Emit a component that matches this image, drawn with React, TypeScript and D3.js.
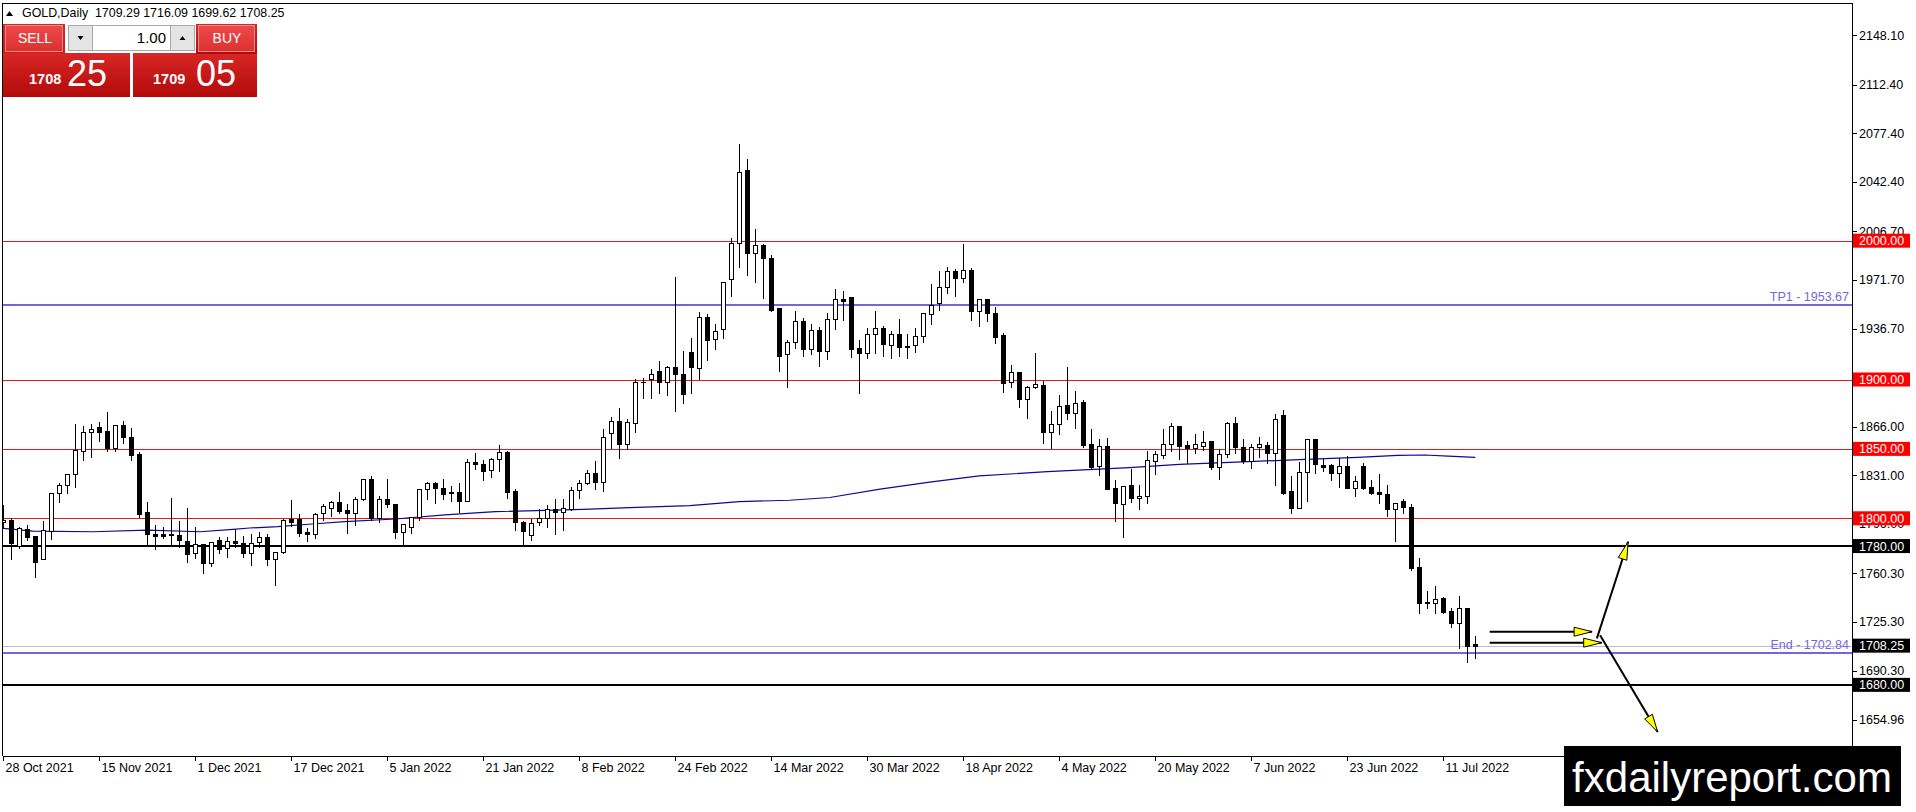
import * as d3 from "d3";

// daily OHLC, 28 Oct 2021 .. 18 Jul 2022
const opens = [
  1797.0, 1798.7, 1780.3, 1792.0, 1787.2, 1770.4, 1791.1, 1818.0, 1823.7, 1831.6,
  1848.7, 1861.9, 1865.5, 1862.9, 1850.4, 1867.2, 1858.3, 1846.3, 1804.3, 1788.4,
  1788.4, 1788.6, 1787.7, 1783.6, 1774.7, 1781.2, 1768.0, 1784.3, 1778.3, 1783.4,
  1781.9, 1774.7, 1782.7, 1786.3, 1770.4, 1775.9, 1799.5, 1799.5, 1789.9, 1788.4,
  1803.6, 1807.2, 1811.7, 1806.0, 1804.0, 1813.9, 1828.1, 1800.4, 1813.6, 1810.3,
  1790.3, 1794.0, 1800.7, 1820.9, 1825.2, 1822.0, 1819.2, 1819.2, 1812.7, 1840.3,
  1839.1, 1834.8, 1842.5, 1847.5, 1819.7, 1797.1, 1788.0, 1797.1, 1800.5, 1806.5,
  1804.8, 1806.7, 1820.4, 1825.2, 1832.4, 1826.0, 1861.2, 1870.3, 1853.3, 1868.9,
  1897.9, 1900.4, 1906.1, 1898.0, 1908.8, 1903.7, 1919.6, 1908.0, 1944.8, 1928.9,
  1936.2, 1972.2, 1998.1, 2050.9, 1990.9, 1996.9, 1987.8, 1951.3, 1918.1, 1926.8,
  1942.4, 1922.0, 1935.7, 1920.8, 1943.6, 1957.8, 1959.2, 1922.5, 1918.9, 1932.5,
  1936.9, 1924.9, 1932.5, 1923.2, 1924.9, 1931.3, 1947.2, 1954.9, 1966.4, 1978.2,
  1973.4, 1978.9, 1949.6, 1957.8, 1948.0, 1932.1, 1898.0, 1905.2, 1885.7, 1894.4,
  1896.0, 1862.4, 1867.7, 1881.6, 1876.1, 1884.0, 1853.5, 1837.6, 1852.1, 1821.6,
  1810.3, 1824.0, 1814.4, 1816.1, 1841.3, 1845.4, 1853.5, 1866.5, 1852.8, 1850.4,
  1852.3, 1855.7, 1837.2, 1846.3, 1868.4, 1851.1, 1841.3, 1851.6, 1852.8, 1847.3,
  1874.4, 1819.6, 1807.6, 1833.1, 1856.9, 1838.4, 1838.4, 1832.4, 1837.6, 1822.0,
  1837.6, 1822.3, 1818.9, 1817.2, 1806.4, 1812.4, 1808.3, 1765.1, 1739.9, 1739.2,
  1742.3, 1733.2, 1724.8, 1735.6, 1709.29,
];
const highs = [
  1810.0, 1801.1, 1794.4, 1795.9, 1787.2, 1798.7, 1818.0, 1826.1, 1832.8, 1868.9,
  1867.2, 1868.9, 1870.3, 1877.3, 1867.9, 1870.8, 1865.5, 1848.7, 1812.4, 1795.9,
  1794.4, 1815.1, 1798.7, 1807.9, 1794.4, 1781.2, 1782.6, 1787.2, 1787.2, 1792.7,
  1787.9, 1789.2, 1790.8, 1789.1, 1775.9, 1800.0, 1813.9, 1803.6, 1794.0, 1804.5,
  1810.8, 1813.2, 1819.6, 1810.8, 1816.3, 1828.8, 1831.2, 1816.8, 1828.8, 1811.2,
  1795.6, 1801.6, 1821.1, 1826.9, 1826.9, 1828.8, 1824.0, 1826.4, 1843.2, 1847.5,
  1842.5, 1843.9, 1853.5, 1849.0, 1821.6, 1798.8, 1800.0, 1807.7, 1810.1, 1814.4,
  1814.4, 1823.3, 1828.1, 1835.3, 1842.0, 1864.8, 1873.7, 1879.9, 1872.0, 1900.8,
  1902.0, 1908.0, 1914.0, 1910.5, 1974.6, 1921.3, 1930.9, 1949.6, 1947.7, 1941.0,
  1970.5, 2002.4, 2070.2, 2059.4, 2008.9, 1998.6, 1990.2, 1951.3, 1929.2, 1950.1,
  1944.8, 1940.5, 1938.6, 1948.9, 1965.7, 1964.5, 1959.7, 1928.9, 1938.1, 1950.1,
  1939.3, 1935.7, 1944.1, 1933.3, 1937.6, 1947.7, 1969.3, 1978.9, 1981.8, 1980.6,
  1998.6, 1981.3, 1958.5, 1959.0, 1953.0, 1934.5, 1911.2, 1906.4, 1896.0, 1919.6,
  1899.6, 1878.0, 1889.5, 1909.7, 1892.4, 1885.7, 1864.8, 1857.6, 1858.3, 1828.1,
  1823.3, 1836.0, 1824.7, 1849.2, 1849.2, 1864.8, 1869.6, 1867.2, 1856.4, 1861.2,
  1863.6, 1856.4, 1850.4, 1870.3, 1873.7, 1857.6, 1854.5, 1859.3, 1855.7, 1875.6,
  1878.5, 1831.2, 1841.2, 1856.9, 1856.9, 1843.2, 1840.1, 1844.4, 1845.6, 1831.2,
  1840.8, 1828.5, 1832.8, 1824.4, 1812.0, 1814.4, 1811.2, 1772.3, 1748.3, 1751.9,
  1744.0, 1736.3, 1744.7, 1735.6, 1716.09,
];
const lows = [
  1793.0, 1770.9, 1778.3, 1784.3, 1757.9, 1770.4, 1784.8, 1812.0, 1818.4, 1822.3,
  1842.0, 1844.4, 1855.9, 1848.7, 1848.7, 1854.5, 1842.0, 1801.1, 1780.3, 1777.6,
  1785.5, 1780.3, 1779.5, 1768.7, 1771.1, 1760.8, 1765.6, 1774.7, 1771.9, 1779.5,
  1772.3, 1766.3, 1779.5, 1766.3, 1751.9, 1774.7, 1794.4, 1787.2, 1783.9, 1785.5,
  1798.8, 1801.6, 1804.0, 1789.2, 1795.2, 1813.2, 1798.8, 1797.6, 1807.9, 1785.5,
  1781.5, 1789.6, 1798.8, 1813.9, 1811.2, 1813.9, 1812.7, 1804.8, 1812.4, 1835.3,
  1827.6, 1830.0, 1834.3, 1814.4, 1791.6, 1780.1, 1784.4, 1795.2, 1793.9, 1788.5,
  1791.6, 1806.0, 1814.9, 1824.7, 1820.9, 1819.9, 1850.4, 1843.7, 1849.7, 1862.4,
  1886.4, 1886.9, 1890.0, 1888.8, 1877.3, 1882.8, 1890.5, 1900.1, 1914.0, 1921.7,
  1929.7, 1960.2, 1980.8, 1975.3, 1970.5, 1958.5, 1949.4, 1906.4, 1894.8, 1922.5,
  1917.2, 1918.1, 1910.0, 1914.8, 1936.4, 1942.9, 1916.5, 1890.0, 1915.7, 1918.9,
  1917.2, 1915.3, 1917.2, 1915.3, 1920.1, 1927.3, 1939.8, 1950.1, 1962.6, 1960.4,
  1970.5, 1942.9, 1938.6, 1942.0, 1926.0, 1891.2, 1894.8, 1880.4, 1872.0, 1893.6,
  1854.0, 1850.4, 1860.7, 1871.3, 1864.8, 1851.1, 1835.3, 1831.2, 1820.9, 1798.3,
  1786.3, 1812.0, 1806.5, 1810.8, 1831.9, 1843.2, 1848.7, 1842.5, 1840.1, 1847.3,
  1849.2, 1835.3, 1828.1, 1844.4, 1846.8, 1840.1, 1836.5, 1843.9, 1839.6, 1824.0,
  1817.5, 1804.0, 1807.2, 1812.7, 1832.8, 1834.0, 1827.6, 1822.3, 1822.0, 1816.0,
  1820.9, 1817.2, 1811.2, 1801.6, 1783.9, 1803.6, 1762.7, 1731.5, 1735.6, 1732.0,
  1731.5, 1721.4, 1706.3, 1696.7, 1699.62,
];
const closes = [
  1799.0, 1782.4, 1792.7, 1786.7, 1768.7, 1791.5, 1818.0, 1823.7, 1831.6, 1849.2,
  1861.9, 1864.1, 1862.4, 1850.9, 1867.2, 1858.3, 1845.6, 1803.1, 1788.4, 1787.5,
  1787.5, 1787.7, 1784.3, 1774.0, 1781.2, 1768.0, 1782.6, 1777.6, 1783.6, 1782.4,
  1774.7, 1782.0, 1786.3, 1770.4, 1775.9, 1798.8, 1797.5, 1789.6, 1788.4, 1802.8,
  1808.8, 1812.0, 1805.5, 1804.0, 1813.9, 1828.1, 1800.0, 1813.6, 1810.0, 1790.3,
  1795.6, 1800.7, 1821.1, 1825.7, 1822.0, 1817.2, 1818.2, 1812.7, 1840.3, 1838.9,
  1834.3, 1842.5, 1847.5, 1819.2, 1797.1, 1791.1, 1796.4, 1800.5, 1806.5, 1804.3,
  1807.2, 1820.4, 1825.2, 1832.4, 1826.0, 1858.3, 1870.3, 1853.5, 1869.1, 1897.9,
  1898.5, 1903.8, 1898.0, 1908.8, 1903.7, 1889.3, 1908.8, 1944.8, 1928.5, 1935.2,
  1970.5, 1998.1, 2049.7, 1991.4, 1996.9, 1987.8, 1950.1, 1917.2, 1926.8, 1942.4,
  1921.7, 1935.7, 1920.8, 1943.6, 1957.8, 1956.8, 1922.0, 1918.9, 1932.5, 1936.9,
  1925.3, 1932.5, 1923.2, 1924.4, 1931.6, 1947.7, 1953.7, 1966.4, 1978.2, 1973.4,
  1978.9, 1949.6, 1957.8, 1948.0, 1930.9, 1897.7, 1905.2, 1885.7, 1894.4, 1896.5,
  1862.4, 1867.7, 1880.9, 1876.1, 1882.8, 1852.8, 1837.2, 1852.1, 1820.9, 1811.3,
  1823.3, 1814.4, 1816.1, 1842.0, 1846.1, 1853.3, 1866.5, 1852.1, 1850.9, 1853.3,
  1854.7, 1837.2, 1846.3, 1868.4, 1851.1, 1841.3, 1851.6, 1853.5, 1847.3, 1871.3,
  1818.4, 1807.6, 1833.1, 1856.9, 1838.9, 1837.2, 1832.4, 1837.6, 1822.0, 1826.8,
  1822.0, 1818.4, 1817.2, 1806.4, 1810.8, 1808.3, 1763.9, 1738.7, 1738.7, 1741.6,
  1732.7, 1724.8, 1735.1, 1708.0, 1708.25,
];

// moving average, sampled along the curve (bar index, price)
const maBars = [0, 3.7, 11.2, 18, 24.6, 28.7, 30.8, 34.3, 38.6, 42.7, 49, 55.2, 61.5, 72.5, 78.3, 85.8, 92, 98.3, 103.3, 109.6, 115.8, 122, 130.5, 140.8, 147, 153.3, 162.7, 169.3, 174.3, 177.7, 180.6, 184];
const maValues = [1792.7, 1790.8, 1790.3, 1791.5, 1790.3, 1792.0, 1793.0, 1794.0, 1795.9, 1797.6, 1799.5, 1802.4, 1804.8, 1806.5, 1807.7, 1809.1, 1812.0, 1813.0, 1815.0, 1821.0, 1826.0, 1830.5, 1833.6, 1836.5, 1838.9, 1840.3, 1842.4, 1843.9, 1845.3, 1845.6, 1844.8, 1843.9];

const dateLabels = [
  "28 Oct 2021", "15 Nov 2021", "1 Dec 2021", "17 Dec 2021", "5 Jan 2022", "21 Jan 2022",
  "8 Feb 2022", "24 Feb 2022", "14 Mar 2022", "30 Mar 2022", "18 Apr 2022", "4 May 2022",
  "20 May 2022", "7 Jun 2022", "23 Jun 2022", "11 Jul 2022",
];
// 1901.70 sits fully under the 1900.00 box in the picture, so it is left out
const priceTicks = [2148.1, 2112.4, 2077.4, 2042.4, 2006.7, 1971.7, 1936.7, 1866.0, 1831.0, 1796.0, 1760.3, 1725.3, 1690.3, 1654.96];

const redLevels = [2000, 1900, 1850, 1800];
const blackLevels = [1780, 1680];
const tpLevel = 1953.67;
const endLevel = 1702.84;
const bidPrice = 1708.25;

// drawn arrows: [bar, price] -> [bar, price]
const arrows = [
  [185.8, 1718.3, 198.6, 1718.3],
  [185.8, 1710.4, 199.8, 1710.4],
  [199.2, 1713.5, 203.1, 1783.1],
  [199.6, 1715.7, 206.8, 1646.0],
];

const W = 1916;
const H = 812;
const LEFT = 2.5;
const RIGHT = 1852;
const TOP = 3;
const BOTTOM = 756;
const FONT = "'Liberation Sans', Arial, sans-serif";
const SLATE = "#7466e0";

export default function App() {
  const x = d3.scaleLinear().domain([0, 184]).range([3.3, 3.3 + 184 * 8]);
  const y = d3.scaleLinear().domain([1800, 2000]).range([518.3, 240.7]);
  const px = (v: number) => Math.round(v) + 0.5;

  const maLine = d3
    .line<number>()
    .x((_, i) => x(maBars[i]))
    .y((d) => y(d));

  const arrowHead = (x1: number, y1: number, x2: number, y2: number) => {
    const a = Math.atan2(y2 - y1, x2 - x1);
    const len = 18;
    const hw = 4.5;
    const bx = x2 - len * Math.cos(a);
    const by = y2 - len * Math.sin(a);
    const nx = -Math.sin(a) * hw;
    const ny = Math.cos(a) * hw;
    return `M${x2},${y2}L${bx + nx},${by + ny}L${bx - nx},${by - ny}Z`;
  };

  const levelBox = (v: number, fill: string) => (
    <g key={"box" + v}>
      <rect x={1853} y={y(v) - 7} width={57} height={14} fill={fill} />
      <text x={1859} y={y(v)} dy="0.36em" fill="#fff" fontSize={12.5}>
        {v.toFixed(2)}
      </text>
    </g>
  );

  return (
    <svg
      width={W}
      height={H}
      style={{ position: "absolute", left: 0, top: 0, background: "#fff" }}
      fontFamily={FONT}
    >
      <defs>
        <clipPath id="plot">
          <rect x={LEFT + 0.5} y={TOP} width={RIGHT - LEFT - 0.5} height={BOTTOM - TOP} />
        </clipPath>
        <linearGradient id="panelRed" x1="0" y1="0" x2="0" y2="1">
          <stop offset="0" stopColor="#d92626" />
          <stop offset="1" stopColor="#b20a0a" />
        </linearGradient>
        <linearGradient id="btnRed" x1="0" y1="0" x2="0" y2="1">
          <stop offset="0" stopColor="#ec4a4a" />
          <stop offset="1" stopColor="#dc3030" />
        </linearGradient>
      </defs>

      <rect width={W} height={H} fill="#fff" />

      <g clipPath="url(#plot)" shapeRendering="crispEdges">
        {redLevels.map((v) => (
          <line key={v} x1={LEFT} x2={RIGHT} y1={px(y(v))} y2={px(y(v))} stroke="#e01b1b" strokeWidth={1} />
        ))}
        <line x1={LEFT} x2={RIGHT} y1={Math.round(y(tpLevel))} y2={Math.round(y(tpLevel))} stroke={SLATE} strokeWidth={2} />
        <line x1={LEFT} x2={RIGHT} y1={px(y(bidPrice))} y2={px(y(bidPrice))} stroke="#c0c0c0" strokeWidth={1} />
        <line x1={LEFT} x2={RIGHT} y1={Math.round(y(endLevel))} y2={Math.round(y(endLevel))} stroke={SLATE} strokeWidth={2} />
        {blackLevels.map((v) => (
          <line key={v} x1={LEFT} x2={RIGHT} y1={Math.round(y(v))} y2={Math.round(y(v))} stroke="#000" strokeWidth={2} />
        ))}

        <path d={maLine(maValues) || ""} fill="none" stroke="#0a0a96" strokeWidth={1.2} shapeRendering="auto" />

        {closes.map((c, i) => {
          const o = opens[i];
          const cx = px(x(i));
          const top = px(y(Math.max(o, c)));
          const bot = px(y(Math.min(o, c)));
          const up = c >= o;
          return (
            <g key={i}>
              <line x1={cx} x2={cx} y1={px(y(highs[i]))} y2={px(y(lows[i]))} stroke="#000" />
              {bot - top < 1 ? (
                <line x1={cx - 2.5} x2={cx + 2.5} y1={top} y2={top} stroke="#000" />
              ) : (
                <rect x={cx - 2} y={top} width={4} height={bot - top} fill={up ? "#fff" : "#000"} stroke="#000" />
              )}
            </g>
          );
        })}

        <text x={RIGHT - 3} y={y(tpLevel) - 4} textAnchor="end" fill={SLATE} fontSize={12.5}>
          TP1 - {tpLevel.toFixed(2)}
        </text>
        <text x={RIGHT - 3} y={y(endLevel) - 4} textAnchor="end" fill={SLATE} fontSize={12.5}>
          End - {endLevel.toFixed(2)}
        </text>

        {arrows.map(([b1, p1, b2, p2], i) => {
          const x1 = x(b1), y1 = y(p1), x2 = x(b2), y2 = y(p2);
          return (
            <g key={"arr" + i} shapeRendering="auto">
              <line x1={x1} y1={y1} x2={x2} y2={y2} stroke="#000" strokeWidth={2} />
              <path d={arrowHead(x1, y1, x2, y2)} fill="#ffff00" stroke="#000" strokeWidth={1} />
            </g>
          );
        })}
      </g>

      {/* frame */}
      <g shapeRendering="crispEdges" stroke="#000" fill="none">
        <line x1={LEFT} x2={RIGHT} y1={TOP} y2={TOP} />
        <line x1={LEFT} x2={LEFT} y1={TOP} y2={BOTTOM} />
        <line x1={RIGHT + 0.5} x2={RIGHT + 0.5} y1={TOP} y2={BOTTOM} />
        <line x1={LEFT} x2={RIGHT + 0.5} y1={BOTTOM + 0.5} y2={BOTTOM + 0.5} />
      </g>

      {/* price axis */}
      <g fontSize={12.5} fill="#000">
        {priceTicks.map((v) => (
          <g key={v}>
            <line x1={RIGHT} x2={RIGHT + 5} y1={px(y(v))} y2={px(y(v))} stroke="#000" shapeRendering="crispEdges" />
            <text x={1859} y={y(v)} dy="0.36em">
              {v.toFixed(2)}
            </text>
          </g>
        ))}
      </g>
      {redLevels.map((v) => levelBox(v, "#ff0000"))}
      {blackLevels.map((v) => levelBox(v, "#000"))}
      {levelBox(bidPrice, "#000")}

      {/* time axis */}
      <g fontSize={12.5} fill="#000">
        {dateLabels.map((d, k) => {
          const bx = px(x(k * 12));
          return (
            <g key={d}>
              <line x1={bx} x2={bx} y1={BOTTOM} y2={BOTTOM + 5} stroke="#000" shapeRendering="crispEdges" />
              <text x={bx + 2} y={BOTTOM + 16}>
                {d}
              </text>
            </g>
          );
        })}
      </g>

      {/* header */}
      <path d="M6,16 L9.5,11 L13,16 Z" fill="#000" />
      <text x={22} y={17} fontSize={12.4} fill="#000" style={{ whiteSpace: "pre" }}>
        {"GOLD,Daily  " + [opens[184], highs[184], lows[184], closes[184]].map((v) => v.toFixed(2)).join(" ")}
      </text>

      {/* one click trading panel */}
      <g>
        <rect x={3} y={24} width={62} height={73} fill="url(#panelRed)" />
        <rect x={3} y={53} width={127} height={44} fill="url(#panelRed)" />
        <rect x={133} y={53} width={124} height={44} fill="url(#panelRed)" />
        <rect x={196} y={24} width={61} height={30} fill="url(#panelRed)" />
        <rect x={5.5} y={25.5} width={57} height={26} fill="url(#btnRed)" stroke="#f08a8a" />
        <rect x={198.5} y={25.5} width={56} height={26} fill="url(#btnRed)" stroke="#f08a8a" />
        <text x={35} y={43} textAnchor="middle" fill="#fff" fontSize={14}>SELL</text>
        <text x={227} y={43} textAnchor="middle" fill="#fff" fontSize={14}>BUY</text>
        <rect x={68.5} y={25.5} width={24} height={25} fill="#e4e4e4" stroke="#a8a8a8" />
        <rect x={92.5} y={25.5} width={78} height={25} fill="#fff" stroke="#a8a8a8" />
        <rect x={170.5} y={25.5} width={24} height={25} fill="#e4e4e4" stroke="#a8a8a8" />
        <path d="M77.5,36 L83.5,36 L80.5,40 Z" fill="#000" />
        <path d="M179.5,40 L185.5,40 L182.5,36 Z" fill="#000" />
        <text x={166} y={43} textAnchor="end" fill="#000" fontSize={15}>1.00</text>
        <text x={29} y={84} fill="#fff" fontSize={14.5} fontWeight="bold">1708</text>
        <text x={67} y={86} fill="#fff" fontSize={36}>25</text>
        <text x={153} y={84} fill="#fff" fontSize={14.5} fontWeight="bold">1709</text>
        <text x={196} y={86} fill="#fff" fontSize={36}>05</text>
      </g>

      {/* watermark */}
      <rect x={1564} y={746} width={337} height={60} fill="#000" />
      <text x={1732} y={792} textAnchor="middle" fill="#fff" fontSize={42}>
        fxdailyreport.com
      </text>
    </svg>
  );
}
